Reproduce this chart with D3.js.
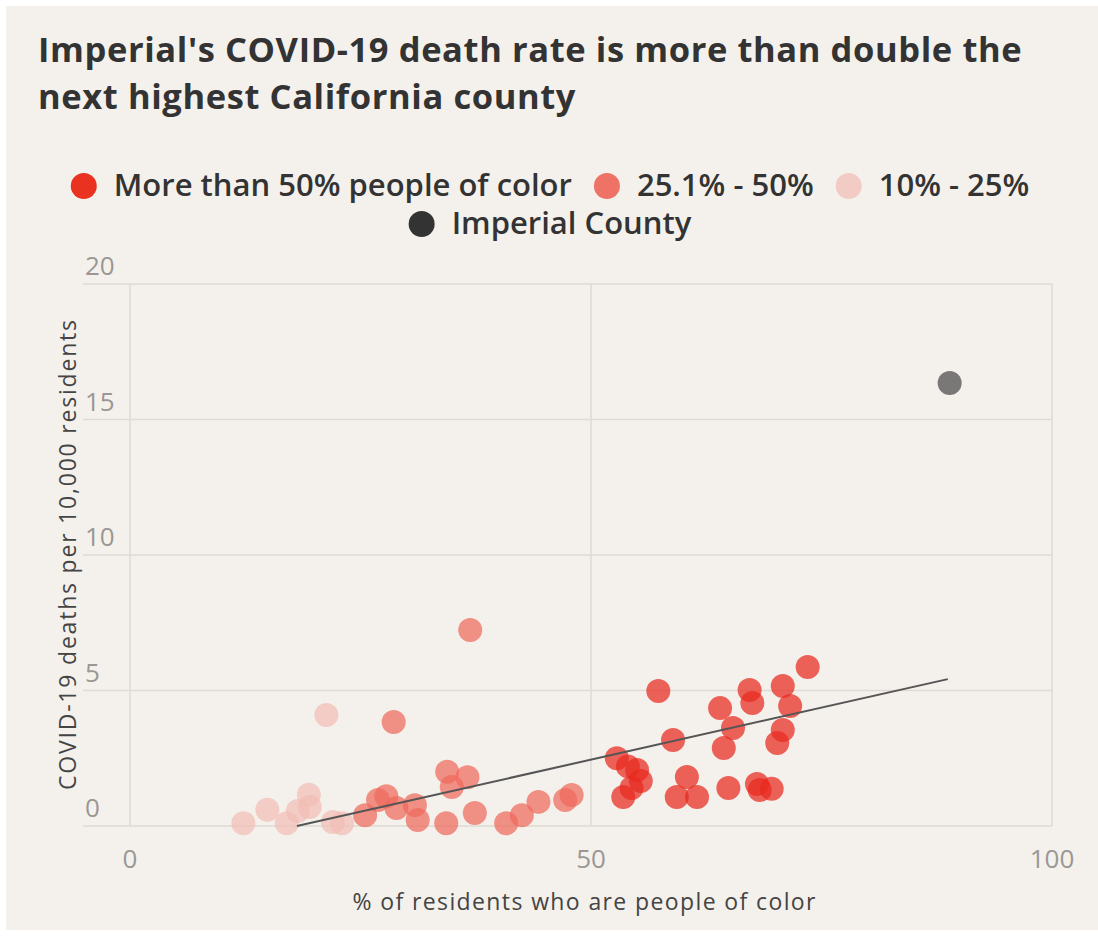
<!DOCTYPE html>
<html>
<head>
<meta charset="utf-8">
<script src="https://cdn.jsdelivr.net/npm/d3@7"></script>
<style>
  body { margin: 0; background: #ffffff; }
  svg { display: block; font-family: "Open Sans", sans-serif; }
</style>
</head>
<body>
<svg id="chart"></svg>
<script>
const width = 1098;
const height = 936;

// data: [% people of color, deaths per 10,000]
const over50 = [
  [52.8, 2.5], [54.0, 2.2], [55.0, 2.07], [55.4, 1.66], [53.5, 1.07],
  [54.4, 1.4], [57.3, 4.98], [58.9, 3.17], [60.4, 1.81], [59.3, 1.07],
  [61.5, 1.07], [64.9, 1.4], [64.0, 4.35], [65.4, 3.62], [64.4, 2.88],
  [67.2, 5.02], [67.5, 4.54], [70.8, 5.17], [71.6, 4.43], [73.5, 5.87],
  [70.8, 3.54], [70.2, 3.06], [68.0, 1.55], [68.3, 1.33], [69.6, 1.37],
];
const from25to50 = [
  [36.9, 7.23], [28.6, 3.84], [25.5, 0.4], [26.9, 0.96], [27.8, 1.1],
  [28.9, 0.66], [30.9, 0.77], [31.2, 0.22], [34.4, 2.0], [34.9, 1.44],
  [36.6, 1.8], [34.3, 0.1], [37.4, 0.48], [40.8, 0.1], [42.5, 0.4],
  [44.3, 0.89], [47.2, 0.96], [47.9, 1.14],
];
const from10to25 = [
  [21.3, 4.1], [12.3, 0.1], [14.9, 0.6], [17.0, 0.1], [18.2, 0.55],
  [19.4, 1.15], [19.5, 0.7], [22.0, 0.15], [23.0, 0.1],
];
const imperial = [[88.9, 16.35]];
const trend = [[18.1, 0], [88.7, 5.42]];

const xTicks = [0, 50, 100];
const yTicks = [0, 5, 10, 15, 20];

const titleLines = [
  "Imperial's COVID-19 death rate is more than double the",
  "next highest California county",
];

const groups = [
  { label: "More than 50% people of color", color: "#e8291e", swatch: "#e9321f", data: over50 },
  { label: "25.1% - 50%", color: "#ee6a5c", swatch: "#ef7266", data: from25to50 },
  { label: "10% - 25%", color: "#f1beb6", swatch: "#f3cbc5", data: from10to25 },
  { label: "Imperial County", color: "#4a4a4a", swatch: "#333333", data: imperial },
];

const svg = d3.select("#chart").attr("width", width).attr("height", height);

svg.append("rect")
  .attr("x", 6).attr("y", 6)
  .attr("width", width - 6).attr("height", height - 12)
  .attr("fill", "#f4f1ec");

// title
svg.append("g")
  .selectAll("text")
  .data(titleLines)
  .enter()
  .append("text")
  .attr("x", 38)
  .attr("y", (d, i) => 62 + i * 47)
  .attr("font-size", 34.5)
  .attr("font-weight", 700)
  .attr("letter-spacing", 0.6)
  .attr("fill", "#333")
  .text((d) => d);

// legend, two centered rows
const legendRows = [groups.slice(0, 3), groups.slice(3)];
const R = 13;
legendRows.forEach((row, ri) => {
  const g = svg.append("g");
  let cx = 0;
  row.forEach((d) => {
    g.append("circle").attr("cx", cx + R).attr("cy", 0).attr("r", R).attr("fill", d.swatch);
    const t = g.append("text")
      .attr("x", cx + 2 * R + 17)
      .attr("y", 10)
      .attr("font-size", 31)
      .attr("font-weight", 600)
      .attr("fill", "#333")
      .text(d.label);
    cx += 2 * R + 17 + t.node().getComputedTextLength() + 22;
  });
  const w = cx - 22;
  g.attr("transform", `translate(${550 - w / 2},${186 + ri * 38})`);
});

// scales
const x = d3.scaleLinear().domain([0, 100]).range([130, 1052]);
const y = d3.scaleLinear().domain([0, 20]).range([826, 284]);

// grid
const grid = svg.append("g").attr("stroke", "#dedad4").attr("stroke-width", 1.5);
grid.selectAll(".h")
  .data(yTicks)
  .enter()
  .append("line")
  .attr("x1", 83).attr("x2", x(100))
  .attr("y1", (d) => y(d)).attr("y2", (d) => y(d));
grid.selectAll(".v")
  .data(xTicks)
  .enter()
  .append("line")
  .attr("x1", (d) => x(d)).attr("x2", (d) => x(d))
  .attr("y1", y(20)).attr("y2", y(0));

// tick labels
svg.append("g")
  .selectAll("text")
  .data(yTicks)
  .enter()
  .append("text")
  .attr("x", 85)
  .attr("y", (d) => y(d) - 9)
  .attr("font-size", 26)
  .attr("fill", "#9a9794")
  .text((d) => d);

svg.append("g")
  .selectAll("text")
  .data(xTicks)
  .enter()
  .append("text")
  .attr("x", (d) => x(d))
  .attr("y", 868)
  .attr("text-anchor", "middle")
  .attr("font-size", 26)
  .attr("fill", "#9a9794")
  .text((d) => d);

// axis titles
svg.append("text")
  .attr("x", 584).attr("y", 910)
  .attr("text-anchor", "middle")
  .attr("font-size", 23)
  .attr("textLength", 463)
  .attr("fill", "#444")
  .text("% of residents who are people of color");

svg.append("text")
  .attr("transform", `translate(76,555) rotate(-90)`)
  .attr("text-anchor", "middle")
  .attr("font-size", 23)
  .attr("textLength", 470)
  .attr("fill", "#444")
  .text("COVID-19 deaths per 10,000 residents");

// points
groups.forEach((grp) => {
  svg.append("g")
    .selectAll("circle")
    .data(grp.data)
    .enter()
    .append("circle")
    .attr("cx", (d) => x(d[0]))
    .attr("cy", (d) => y(d[1]))
    .attr("r", 12)
    .attr("fill", grp.color)
    .attr("fill-opacity", 0.72);
});

// trend line
svg.append("path")
  .datum(trend)
  .attr("d", d3.line().x((d) => x(d[0])).y((d) => y(d[1])))
  .attr("stroke", "#555")
  .attr("stroke-width", 2)
  .attr("fill", "none");
</script>
</body>
</html>
